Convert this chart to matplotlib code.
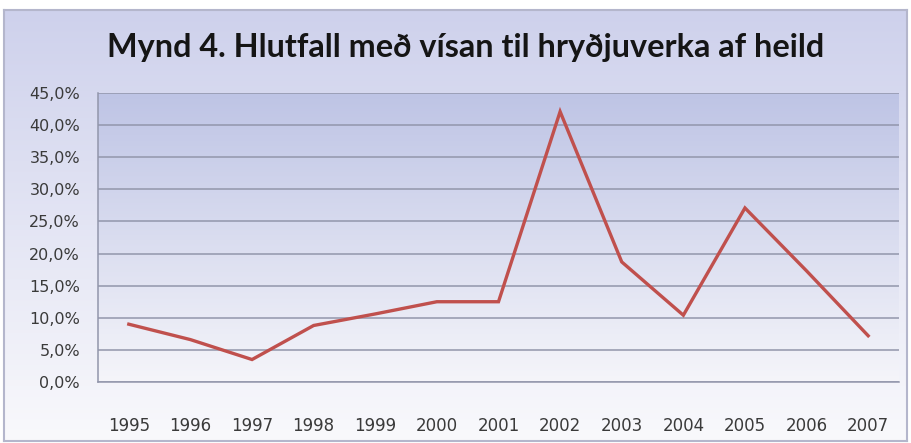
import matplotlib
matplotlib.use("Agg")
import matplotlib.pyplot as plt
import numpy as np
from matplotlib.ticker import FuncFormatter, MultipleLocator

years = ["1995", "1996", "1997", "1998", "1999", "2000", "2001",
         "2002", "2003", "2004", "2005", "2006", "2007"]
share = [9.0, 6.6, 3.5, 8.8, 10.6, 12.5, 12.5, 42.1, 18.7, 10.4, 27.1, 17.3, 7.2]
title = "Mynd 4. Hlutfall með vísan til hryðjuverka af heild"

W, H = 911, 443
fig = plt.figure(figsize=(W / 100, H / 100), dpi=100)
fig.patch.set_facecolor("white")

t = np.linspace(0, 1, 256)[:, None]

def vgrad(top, bot):
    top = np.array(top) / 255
    bot = np.array(bot) / 255
    g = top[None, None, :] * (1 - t[..., None]) + bot[None, None, :] * t[..., None]
    return np.repeat(g, 4, axis=1)

# outer chart area with gradient
bx0, by0, bx1, by1 = 4, 10, 907, 441
bg = fig.add_axes([bx0 / W, 1 - by1 / H, (bx1 - bx0) / W, (by1 - by0) / H], zorder=0)
bg.imshow(vgrad([206, 209, 236], [249, 249, 252]), aspect="auto", extent=[0, 1, 0, 1],
          origin="upper", interpolation="bilinear")
bg.set_xlim(0, 1); bg.set_ylim(0, 1)
bg.set_xticks([]); bg.set_yticks([])
for s in bg.spines.values():
    s.set_color("#b4b6cc")
    s.set_linewidth(1.5)

# plot area
px0, py0, px1, py1 = 98, 93, 899, 382
ax = fig.add_axes([px0 / W, 1 - py1 / H, (px1 - px0) / W, (py1 - py0) / H], zorder=1)
ax.set_facecolor("none")
ax.imshow(vgrad([190, 196, 229], [245, 245, 250]), aspect="auto",
          extent=[-0.5, len(years) - 0.5, 0, 45], origin="upper",
          interpolation="bilinear", zorder=0)

x = np.arange(len(years))
ax.plot(x, share, color="#C0504D", lw=2.4, solid_joinstyle="miter", zorder=3)

ax.set_xlim(-0.5, len(years) - 0.5)
ax.set_ylim(0, 45)
ax.yaxis.set_major_locator(MultipleLocator(5))
ax.yaxis.set_major_formatter(FuncFormatter(lambda v, p: f"{v:.1f}".replace(".", ",") + "%"))
ax.set_xticks(x)
ax.set_xticklabels(years)
ax.grid(axis="y", color="#9296ab", lw=1.1, zorder=1)
ax.set_axisbelow(True)
ax.tick_params(axis="both", length=0, labelcolor="#3a3a3a")
ax.tick_params(axis="x", pad=25, labelsize=12)
ax.tick_params(axis="y", pad=13, labelsize=11.5)
for k in ["top", "right"]:
    ax.spines[k].set_visible(False)
for k in ["left", "bottom"]:
    ax.spines[k].set_color("#9296ab")
    ax.spines[k].set_linewidth(1.1)

# title, scaled to the reference width
txt = fig.text(0.5 * (108 + 823) / W, 1 - 48 / H, title, ha="center", va="center",
               fontsize=22, fontweight="bold", family=["Lato", "DejaVu Sans"],
               color="#151515", zorder=5)
fig.canvas.draw()
w = txt.get_window_extent().width
txt.set_fontsize(22 * 715 / w)

fig.savefig("out.png", dpi=100, facecolor=fig.get_facecolor())
